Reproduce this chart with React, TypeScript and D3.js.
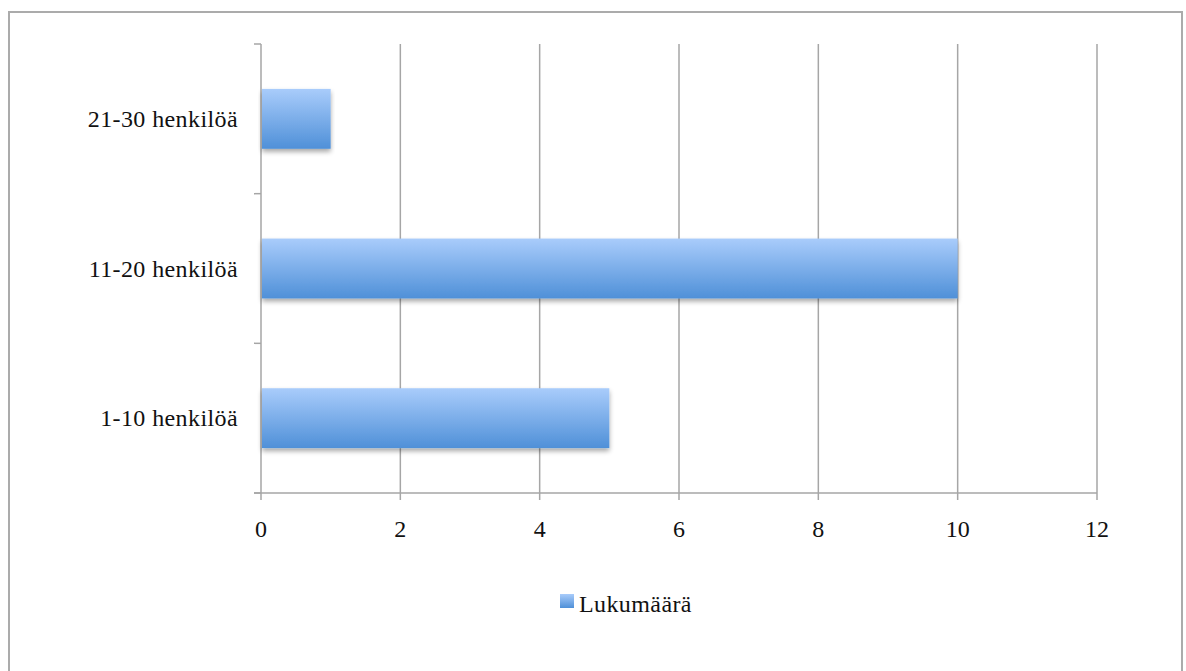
import React from "react";
import * as d3 from "d3";

const categories = ["21-30 henkilöä", "11-20 henkilöä", "1-10 henkilöä"];
const values = [1, 10, 5];
const xTicks = [0, 2, 4, 6, 8, 10, 12];
const seriesName = "Lukumäärä";

export default function App() {
  const W = 1186, H = 671;
  const left = 261, right = 1097, top = 44, bottom = 493;
  const x = d3.scaleLinear().domain([0, 12]).range([left, right]);
  const y = d3.scaleBand<string>().domain(categories).range([top, bottom]).paddingInner(0.6).paddingOuter(0.3);
  const band = d3.scaleBand<string>().domain(categories).range([top, bottom]);
  const font = "'Liberation Serif', 'DejaVu Serif', serif";
  const fs = 24;
  const grid = "#a6a6a6";
  return (
    <svg width={W} height={H} style={{ position: "absolute", left: 0, top: 0 }}>
      <defs>
        <linearGradient id="barGrad" x1="0" y1="0" x2="0" y2="1">
          <stop offset="0" stopColor="#a9ccfb" />
          <stop offset="1" stopColor="#4f90d8" />
        </linearGradient>
        <filter id="shadow" x="-5%" y="-20%" width="110%" height="160%">
          <feGaussianBlur in="SourceAlpha" stdDeviation="2.5" />
          <feOffset dx="0" dy="3" result="b" />
          <feComponentTransfer><feFuncA type="linear" slope="0.35" /></feComponentTransfer>
          <feMerge><feMergeNode /><feMergeNode in="SourceGraphic" /></feMerge>
        </filter>
      </defs>
      <rect x={0} y={0} width={W} height={H} fill="#fff" />
      <rect x={9} y={12} width={1173} height={H + 10} fill="#fff" stroke="#ababab" strokeWidth={2} />
      {xTicks.map((t) => (
        <g key={t}>
          <line x1={x(t)} x2={x(t)} y1={top} y2={bottom + 7} stroke={grid} strokeWidth={1.5} />
          <text x={x(t)} y={537} textAnchor="middle" fontFamily={font} fontSize={fs} fill="#111">{t}</text>
        </g>
      ))}
      <line x1={left - 7} x2={right} y1={bottom} y2={bottom} stroke={grid} strokeWidth={1.5} />
      {[0, 1, 2, 3].map((i) => {
        const yy = top + i * band.bandwidth();
        return <line key={i} x1={left - 7} x2={left} y1={yy} y2={yy} stroke={grid} strokeWidth={1.5} />;
      })}
      {categories.map((c, i) => (
        <g key={c}>
          <rect x={x(0) + 1} y={y(c)!} width={x(values[i]) - x(0) - 1} height={y.bandwidth()} fill="url(#barGrad)" filter="url(#shadow)" />
          <text x={238} y={(band(c) ?? 0) + band.bandwidth() / 2 + 8} textAnchor="end" fontFamily={font} fontSize={fs} letterSpacing={0.4} fill="#111">{c}</text>
        </g>
      ))}
      <rect x={560} y={594} width={14} height={14} fill="url(#barGrad)" />
      <text x={579} y={612} fontFamily={font} fontSize={fs} letterSpacing={0.4} fill="#111">{seriesName}</text>
    </svg>
  );
}
